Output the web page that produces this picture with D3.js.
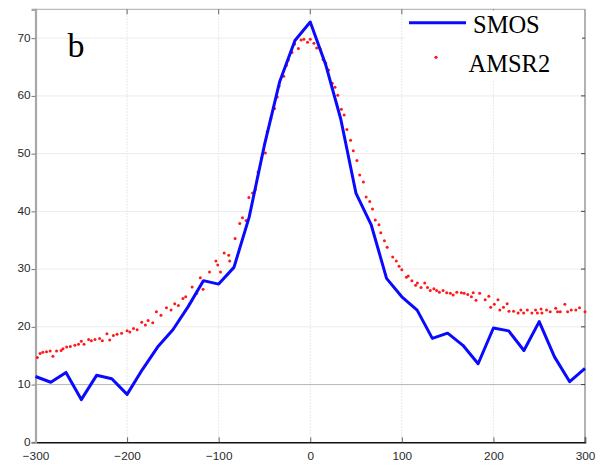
<!DOCTYPE html>
<html>
<head>
<meta charset="utf-8">
<script src="https://cdn.jsdelivr.net/npm/d3@7"></script>
<style>
  html, body { margin: 0; padding: 0; background: #fff; }
  svg { display: block; }
  .tick-label { font-family: "Liberation Sans", Arial, sans-serif; font-size: 11.8px; fill: #2a2a2a; }
  .serif { font-family: "Liberation Serif", "Times New Roman", serif; fill: #000; }
</style>
</head>
<body>
<svg id="chart" width="600" height="471"></svg>
<script>
// Distance from centre (x) and the two retrieved profiles
const xTicks = [-300, -200, -100, 0, 100, 200, 300];
const yTicks = [0, 10, 20, 30, 40, 50, 60, 70];

const smosX = [-300, -283.3, -266.7, -250, -233.3, -216.7, -200, -183.3, -166.7, -150,
  -133.3, -116.7, -100, -83.3, -66.7, -50, -33.3, -16.7, 0, 16.7, 33.3, 50, 66.7, 83.3,
  100, 116.7, 133.3, 150, 166.7, 183.3, 200, 216.7, 233.3, 250, 266.7, 283.3, 300];
const smosY = [11.4, 10.4, 12.1, 7.4, 11.6, 11.0, 8.3, 12.6, 16.5, 19.5,
  23.5, 28.0, 27.4, 30.3, 39.0, 51.5, 62.5, 69.6, 72.8, 65.5, 56.0, 43.1, 37.6, 28.4,
  25.2, 22.9, 18.0, 18.9, 16.8, 13.6, 19.8, 19.3, 15.9, 20.9, 14.8, 10.5, 12.8];

const amsrX = [-298, -295, -292, -288, -284, -281, -277, -272, -270, -266, -262, -257, -253,
  -250, -247, -242, -239, -235, -230, -227, -222, -219, -215, -211, -206, -200, -197, -193,
  -189, -184, -180, -177, -172, -168, -163, -157, -152, -148, -144, -139, -136, -129, -124,
  -120, -117, -110, -103, -101, -98, -94, -89, -88, -82, -77, -74, -70, -67, -63, -60, -57,
  -53, -49, -47, -43, -39, -36, -34, -29, -26, -24, -20, -17, -13, -10, -7, -3, 0, 4, 7, 11,
  14, 17, 20, 24, 27, 30, 34, 37, 40, 44, 47, 51, 54, 58, 61, 65, 68, 71, 75, 77, 81, 84, 90,
  94, 97, 100, 105, 107, 111, 115, 117, 121, 125, 128, 131, 135, 138, 141, 145, 149, 153, 156,
  160, 165, 168, 172, 176, 178, 181, 185, 191, 195, 197, 201, 205, 207, 211, 215, 217, 222,
  227, 230, 233, 237, 242, 246, 248, 252, 253, 258, 262, 268, 270, 273, 278, 281, 285, 290,
  294, 300];
const amsrY = [14.7, 15.4, 15.6, 15.7, 15.8, 14.9, 15.8, 15.9, 16.2, 16.5, 16.6, 16.8, 17.0,
  17.5, 17.0, 17.8, 17.6, 17.8, 18.0, 17.6, 18.8, 17.7, 18.5, 18.7, 18.9, 19.3, 19.1, 19.7,
  19.5, 20.8, 20.3, 21.1, 20.7, 22.6, 22.0, 23.3, 22.9, 24.0, 23.7, 24.9, 25.2, 26.9, 25.8,
  28.5, 26.5, 29.5, 31.4, 30.7, 29.5, 32.8, 32.4, 31.4, 35.3, 37.9, 38.9, 38.4, 42.4, 43.2,
  43.8, 46.8, 49.3, 50.1, 53.8, 56.1, 57.8, 59.8, 61.7, 63.4, 65.3, 66.2, 67.5, 69.0, 68.2,
  69.7, 69.8, 69.3, 69.8, 69.1, 68.3, 68.1, 66.3, 65.7, 64.5, 62.2, 61.5, 60.1, 57.7, 56.7,
  54.2, 52.3, 50.5, 48.8, 46.3, 45.1, 42.5, 41.7, 40.4, 38.5, 37.7, 36.3, 34.9, 33.8, 32.1,
  31.4, 30.5, 29.9, 28.6, 28.8, 28.0, 27.2, 27.6, 26.8, 27.6, 26.8, 26.3, 26.6, 26.3, 26.0,
  26.3, 25.9, 25.8, 25.5, 26.0, 25.9, 25.8, 25.6, 25.2, 25.9, 24.6, 25.8, 24.7, 25.3, 23.4,
  23.9, 24.7, 22.9, 23.4, 24.0, 22.7, 22.7, 22.4, 22.9, 22.4, 22.9, 22.4, 22.9, 22.4, 23.1,
  22.4, 22.9, 22.6, 23.2, 22.6, 22.6, 23.9, 22.6, 22.9, 22.9, 23.3, 22.6];

const legendLabels = ["SMOS", "AMSR2"];
const panelLabel = "b";

const svg = d3.select("#chart");
const plotLeft = 35.5, plotRight = 585, plotTop = 9.3, plotBottom = 442.3;

const x = d3.scaleLinear().domain([-300, 300]).range([plotLeft, plotRight]);
const y = d3.scaleLinear().domain([0, 75]).range([plotBottom, plotTop]);

// Grid
const grid = svg.append("g");
grid.selectAll("line.vg").data(xTicks.slice(1, -1)).join("line")
  .attr("x1", d => x(d)).attr("x2", d => x(d))
  .attr("y1", plotTop).attr("y2", plotBottom)
  .attr("stroke", "#e0e0e0").attr("stroke-width", 1).attr("stroke-dasharray", "1.5,1.5");
grid.selectAll("line.hg").data(yTicks.slice(1)).join("line")
  .attr("x1", plotLeft).attr("x2", plotRight)
  .attr("y1", d => y(d)).attr("y2", d => y(d))
  .attr("stroke", d => d === 10 ? "#b8b8b8" : "#ebebeb").attr("stroke-width", 1);

// Frame
svg.append("line").attr("x1", plotLeft).attr("x2", plotRight).attr("y1", plotTop).attr("y2", plotTop)
  .attr("stroke", "#bbb").attr("stroke-width", 1.2);
svg.append("line").attr("x1", plotRight).attr("x2", plotRight).attr("y1", plotTop).attr("y2", plotBottom)
  .attr("stroke", "#999").attr("stroke-width", 1.5);

// Axes
const xAxis = svg.append("g").attr("transform", `translate(0,${plotBottom})`)
  .call(d3.axisBottom(x).tickValues(xTicks).tickSize(-5).tickPadding(9).tickFormat(d3.format("d")));
xAxis.select(".domain").attr("stroke", "#111").attr("stroke-width", 1.5);
xAxis.selectAll(".tick line").attr("stroke", "#666");
xAxis.selectAll("text").attr("class", "tick-label").attr("dy", "0.72em");

const yAxis = svg.append("g").attr("transform", `translate(${plotLeft},0)`)
  .call(d3.axisLeft(y).tickValues(yTicks).tickSize(4).tickPadding(1).tickFormat(d3.format("d")));
yAxis.select(".domain").attr("stroke", "#a8a8a8").attr("stroke-width", 2.2);
yAxis.selectAll(".tick line").attr("stroke", "#777");
yAxis.selectAll("text").attr("class", "tick-label").attr("dy", "0.24em");

// Inner ticks on top and right edges
svg.append("g").selectAll("line").data(xTicks.slice(1, -1)).join("line")
  .attr("x1", d => x(d)).attr("x2", d => x(d)).attr("y1", plotTop).attr("y2", plotTop + 5)
  .attr("stroke", "#666");
svg.append("g").selectAll("line").data(yTicks.slice(1)).join("line")
  .attr("x1", plotRight - 4).attr("x2", plotRight).attr("y1", d => y(d)).attr("y2", d => y(d))
  .attr("stroke", "#444");

// AMSR2 points
svg.append("g").selectAll("circle").data(amsrX.map((d, i) => [d, amsrY[i]])).join("circle")
  .attr("cx", d => x(d[0])).attr("cy", d => y(d[1])).attr("r", 1.5)
  .attr("fill", "#ff1a1a");

// SMOS line
const line = d3.line().x(d => x(d[0])).y(d => y(d[1]));
svg.append("path").datum(smosX.map((d, i) => [d, smosY[i]]))
  .attr("d", line).attr("fill", "none").attr("stroke", "#0a0aff")
  .attr("stroke-width", 3).attr("stroke-linejoin", "round");

// Legend
const lg = svg.append("g");
lg.append("rect").attr("x", 405).attr("y", plotTop + 1).attr("width", 177).attr("height", 71)
  .attr("fill", "#fff");
lg.append("line").attr("x1", 409).attr("x2", 466).attr("y1", 22.7).attr("y2", 22.7)
  .attr("stroke", "#0a0aff").attr("stroke-width", 3);
lg.append("circle").attr("cx", 436).attr("cy", 57.3).attr("r", 1.6).attr("fill", "#ff1a1a");
lg.selectAll("text").data(legendLabels).join("text")
  .attr("class", "serif").attr("x", d => d === "SMOS" ? 473 : 468.5)
  .attr("y", (d, i) => i === 0 ? 33.3 : 71.7)
  .attr("font-size", "24.5px").text(d => d);

// Panel label
svg.append("text").attr("class", "serif").attr("x", 67.5).attr("y", 56.7)
  .attr("font-size", "34px").text(panelLabel);
</script>
</body>
</html>
